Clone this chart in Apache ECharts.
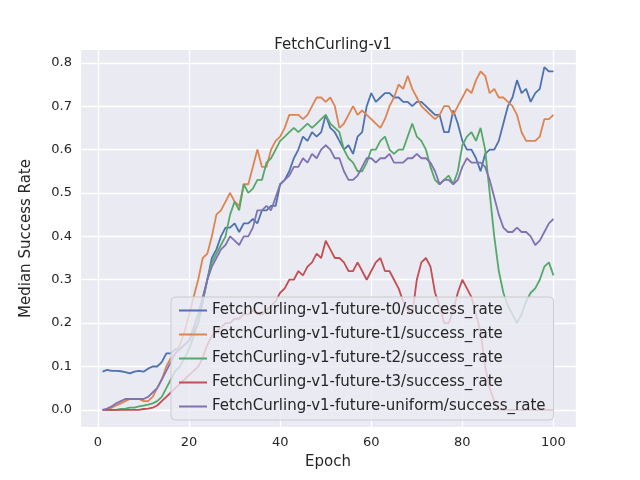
<!DOCTYPE html>
<html>
<head>
<meta charset="utf-8">
<script src="https://cdn.jsdelivr.net/npm/echarts@6/dist/echarts.min.js"></script>
<style>html,body,#main{margin:0;padding:0;width:640px;height:480px;background:#fff}</style>
</head>
<body>
<div id="main"></div>
<script>
var names = ['FetchCurling-v1-future-t0/success_rate','FetchCurling-v1-future-t1/success_rate','FetchCurling-v1-future-t2/success_rate','FetchCurling-v1-future-t3/success_rate','FetchCurling-v1-future-uniform/success_rate'];
var colors = ['#4c72b0','#dd8452','#55a868','#c44e52','#8172b3'];
var t0 = [0.088,0.092,0.09,0.09,0.089,0.087,0.084,0.088,0.09,0.088,0.095,0.1,0.1,0.11,0.13,0.13,0.14,0.14,0.15,0.16,
0.18,0.2,0.25,0.3,0.35,0.37,0.4,0.42,0.42,0.43,0.41,0.43,0.43,0.44,0.43,0.46,0.46,0.47,0.47,0.52,
0.53,0.55,0.58,0.6,0.63,0.62,0.64,0.63,0.64,0.68,0.65,0.64,0.62,0.6,0.61,0.59,0.63,0.64,0.7,0.73,
0.71,0.72,0.73,0.73,0.72,0.72,0.71,0.71,0.7,0.71,0.71,0.7,0.69,0.68,0.68,0.64,0.64,0.69,0.66,0.62,
0.6,0.6,0.58,0.55,0.59,0.6,0.6,0.62,0.66,0.7,0.72,0.76,0.73,0.74,0.71,0.73,0.74,0.79,0.78,0.78];
var t1 = [0,0,0.005,0.01,0.015,0.02,0.025,0.025,0.025,0.02,0.02,0.03,0.05,0.07,0.1,0.12,0.13,0.15,0.18,0.22,
0.26,0.3,0.35,0.36,0.4,0.45,0.46,0.48,0.5,0.48,0.47,0.52,0.52,0.56,0.6,0.56,0.56,0.6,0.62,0.63,
0.65,0.68,0.68,0.68,0.67,0.68,0.7,0.72,0.72,0.71,0.72,0.7,0.65,0.66,0.68,0.7,0.68,0.69,0.68,0.67,
0.66,0.65,0.67,0.7,0.72,0.75,0.74,0.77,0.74,0.72,0.7,0.69,0.68,0.67,0.68,0.7,0.7,0.68,0.7,0.72,
0.74,0.73,0.76,0.78,0.77,0.73,0.74,0.72,0.72,0.71,0.7,0.68,0.64,0.62,0.62,0.62,0.63,0.67,0.67,0.68];
var t2 = [0,0,0,0,0.002,0.003,0.005,0.005,0.008,0.01,0.012,0.015,0.02,0.03,0.05,0.07,0.09,0.1,0.12,0.14,
0.17,0.2,0.25,0.3,0.34,0.36,0.38,0.4,0.45,0.48,0.46,0.52,0.5,0.51,0.53,0.53,0.57,0.58,0.6,0.62,
0.63,0.64,0.65,0.64,0.65,0.66,0.65,0.66,0.67,0.68,0.66,0.65,0.64,0.6,0.58,0.57,0.55,0.55,0.57,0.6,
0.6,0.62,0.63,0.6,0.59,0.6,0.6,0.63,0.66,0.63,0.62,0.6,0.56,0.53,0.52,0.53,0.54,0.52,0.55,0.61,
0.63,0.64,0.62,0.65,0.6,0.5,0.4,0.32,0.27,0.24,0.22,0.2,0.22,0.25,0.27,0.28,0.3,0.33,0.34,0.31];
var t3 = [0,0,0,0,0,0,0,0,0,0.002,0.003,0.005,0.01,0.02,0.03,0.04,0.05,0.06,0.07,0.08,
0.09,0.1,0.12,0.15,0.17,0.18,0.19,0.2,0.2,0.21,0.21,0.22,0.22,0.23,0.22,0.22,0.23,0.24,0.25,0.27,
0.28,0.3,0.3,0.32,0.31,0.33,0.34,0.36,0.35,0.39,0.37,0.35,0.35,0.34,0.32,0.32,0.34,0.32,0.3,0.32,
0.34,0.35,0.32,0.32,0.3,0.28,0.25,0.23,0.22,0.3,0.34,0.35,0.33,0.27,0.24,0.2,0.2,0.23,0.27,0.3,
0.28,0.26,0.22,0.18,0.1,0.05,0.02,0,0,0,0,0,0,0,0,0,0,0,0,0];
var tu = [0,0.003,0.008,0.015,0.02,0.025,0.025,0.025,0.025,0.025,0.03,0.04,0.05,0.07,0.09,0.11,0.13,0.14,0.15,0.16,
0.19,0.22,0.26,0.3,0.33,0.35,0.37,0.38,0.4,0.39,0.38,0.4,0.4,0.42,0.46,0.46,0.47,0.46,0.49,0.52,
0.53,0.54,0.56,0.56,0.58,0.57,0.59,0.58,0.6,0.61,0.6,0.58,0.58,0.55,0.53,0.53,0.54,0.56,0.58,0.58,
0.57,0.58,0.58,0.59,0.57,0.57,0.57,0.58,0.58,0.59,0.58,0.58,0.57,0.55,0.52,0.53,0.53,0.52,0.53,0.56,
0.58,0.57,0.57,0.57,0.56,0.53,0.49,0.45,0.42,0.41,0.41,0.42,0.41,0.41,0.4,0.38,0.39,0.41,0.43,0.44];
var xTicks = [0,20,40,60,80,100];
var yTicks = [0,0.1,0.2,0.3,0.4,0.5,0.6,0.7,0.8];

var all = [t0,t1,t2,t3,tu];
var series = all.map(function (d, i) {
  return {
    name: names[i], type: 'line', showSymbol: false, symbol: 'none',
    data: d.map(function (v, j) { return [j + 1, v]; }),
    lineStyle: { width: 1.8, color: colors[i] }, itemStyle: { color: colors[i] }
  };
});
var chart = echarts.init(document.getElementById('main'));
var font = 'DejaVu Sans';
chart.setOption({
  animation: false,
  textStyle: { fontFamily: font },
  title: { text: 'FetchCurling-v1', left: 328, top: 33, textAlign: 'center',
    textStyle: { fontSize: 15, fontWeight: 'normal', color: '#262626', fontFamily: font } },
  grid: { left: 80, right: 64, top: 50, bottom: 53, show: true, backgroundColor: '#eaeaf2', borderWidth: 0 },
  xAxis: { type: 'value', min: -3.95, max: 104.95, name: 'Epoch', nameLocation: 'middle', nameGap: 28,
    nameTextStyle: { fontSize: 15, color: '#262626' },
    axisLine: { show: false }, axisTick: { show: false },
    axisLabel: { customValues: xTicks, color: '#262626', fontSize: 13, margin: 9 },
    splitLine: { lineStyle: { color: '#fff', width: 1.3 } } },
  yAxis: { type: 'value', min: -0.0395, max: 0.8295, name: 'Median Success Rate', nameLocation: 'middle', nameGap: 46,
    nameTextStyle: { fontSize: 15, color: '#262626' },
    axisLine: { show: false }, axisTick: { show: false, customValues: yTicks },
    axisLabel: { customValues: yTicks, color: '#262626', fontSize: 13, formatter: function (v) { return v.toFixed(1); } },
    splitLine: { lineStyle: { color: '#fff', width: 1.3 } } },
  legend: { orient: 'vertical', left: 171, top: 297, itemGap: 7, itemWidth: 28, itemHeight: 2,
    padding: [5, 8, 5, 8], backgroundColor: 'rgba(234,234,242,0.8)', borderColor: '#cccccc', borderWidth: 1, borderRadius: 4,
    icon: 'rect', textStyle: { fontSize: 15, color: '#262626', lineHeight: 17 }, data: names },
  series: series
});
</script>
</body>
</html>
